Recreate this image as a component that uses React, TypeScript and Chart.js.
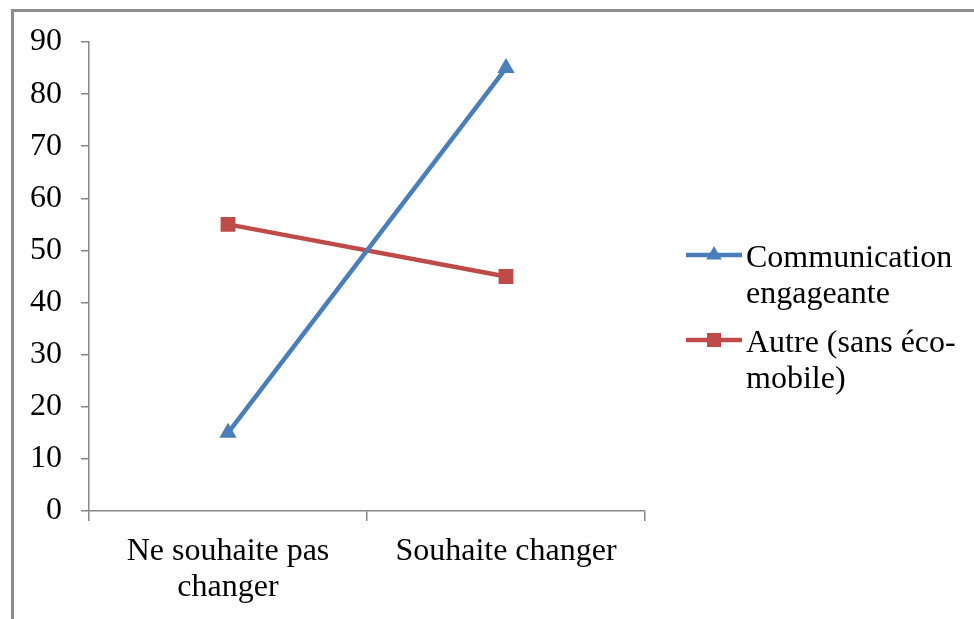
import React, { useEffect, useRef } from "react";
import { Chart, registerables } from "chart.js";

Chart.register(...registerables);

const categories: (string | string[])[] = [["Ne souhaite pas", "changer"], "Souhaite changer"];
const seriesNames: string[][] = [["Communication", "engageante"], ["Autre (sans éco-", "mobile)"]];
const communication: number[] = [15, 85];
const autre: number[] = [55, 45];
const yMin = 0;
const yMax = 90;
const yStep = 10;

const BLUE = "#4a7ebb";
const RED = "#be4b48";
const FONT = "'Liberation Serif', 'Times New Roman', serif";
const FS = 32;

const legendPlugin = {
  id: "customLegend",
  afterDraw(chart: any) {
    const { ctx, chartArea } = chart;
    const x0 = chartArea.right + 41;
    const lineLen = 56;
    const textX = x0 + lineLen + 4;
    const baselines = [chartArea.top + 225, chartArea.top + 310];
    const lh = 36;
    ctx.save();
    chart.data.datasets.forEach((ds: any, i: number) => {
      const base = baselines[i];
      const midY = base - 12;
      ctx.strokeStyle = ds.borderColor;
      ctx.lineWidth = ds.borderWidth;
      ctx.beginPath();
      ctx.moveTo(x0, midY);
      ctx.lineTo(x0 + lineLen, midY);
      ctx.stroke();
      ctx.fillStyle = ds.pointBackgroundColor;
      const cx = x0 + lineLen / 2;
      if (ds.pointStyle === "triangle") {
        const r = 9;
        ctx.beginPath();
        ctx.moveTo(cx, midY - r);
        ctx.lineTo(cx + r * 0.866, midY + r * 0.5);
        ctx.lineTo(cx - r * 0.866, midY + r * 0.5);
        ctx.closePath();
        ctx.fill();
      } else {
        const s = 7;
        ctx.fillRect(cx - s, midY - s, 2 * s, 2 * s);
      }
      ctx.fillStyle = "#000";
      ctx.font = `${FS}px ${FONT}`;
      ctx.textAlign = "left";
      ctx.textBaseline = "alphabetic";
      seriesNames[i].forEach((t, j) => ctx.fillText(t, textX, base + j * lh));
    });
    ctx.restore();
  },
};

export default function App() {
  const ref = useRef<HTMLCanvasElement | null>(null);
  useEffect(() => {
    if (!ref.current) return;
    const chart = new Chart(ref.current, {
      type: "line",
      data: {
        labels: categories,
        datasets: [
          {
            label: seriesNames[0].join(" "),
            data: communication,
            borderColor: BLUE,
            backgroundColor: BLUE,
            pointBackgroundColor: BLUE,
            pointBorderColor: BLUE,
            borderWidth: 4.5,
            pointStyle: "triangle",
            pointRadius: 10,
            pointBorderWidth: 0,
            tension: 0,
          },
          {
            label: seriesNames[1].join(" "),
            data: autre,
            borderColor: RED,
            backgroundColor: RED,
            pointBackgroundColor: RED,
            pointBorderColor: RED,
            borderWidth: 4.5,
            pointStyle: "rect",
            pointRadius: 10.5,
            pointBorderWidth: 0,
            tension: 0,
          },
        ],
      },
      plugins: [legendPlugin],
      options: {
        responsive: false,
        animation: false,
        layout: { padding: { top: 30, right: 329, left: 0, bottom: 0 } },
        plugins: { legend: { display: false }, tooltip: { enabled: false } },
        scales: {
          x: {
            offset: true,
            grid: {
              offset: true,
              drawOnChartArea: false,
              drawTicks: true,
              tickLength: 10,
              color: "#868686",
              lineWidth: 1.5,
            },
            border: { color: "#868686", width: 1.5 },
            ticks: {
              color: "#000",
              font: { family: FONT, size: FS, lineHeight: 1.12 },
              padding: 13,
              maxRotation: 0,
              autoSkip: false,
            },
            afterFit: (s: any) => {
              s.height = 107;
              s.paddingLeft = 0;
              s.paddingRight = 0;
            },
          },
          y: {
            min: yMin,
            max: yMax,
            grid: {
              drawOnChartArea: false,
              drawTicks: true,
              tickLength: 8,
              color: "#868686",
              lineWidth: 1.5,
            },
            border: { color: "#868686", width: 1.5 },
            ticks: {
              stepSize: yStep,
              color: "#000",
              font: { family: FONT, size: FS },
              padding: 19,
            },
            afterFit: (s: any) => {
              s.width = 75;
              s.paddingTop = 0;
              s.paddingBottom = 0;
            },
          },
        },
      },
    } as any);
    return () => chart.destroy();
  }, []);
  return (
    <div
      style={{
        position: "fixed",
        left: 11,
        top: 9,
        width: 990,
        height: 640,
        border: "3px solid #8c8c8c",
        background: "#fff",
      }}
    >
      <canvas ref={ref} width={960} height={606} style={{ display: "block" }} />
    </div>
  );
}
